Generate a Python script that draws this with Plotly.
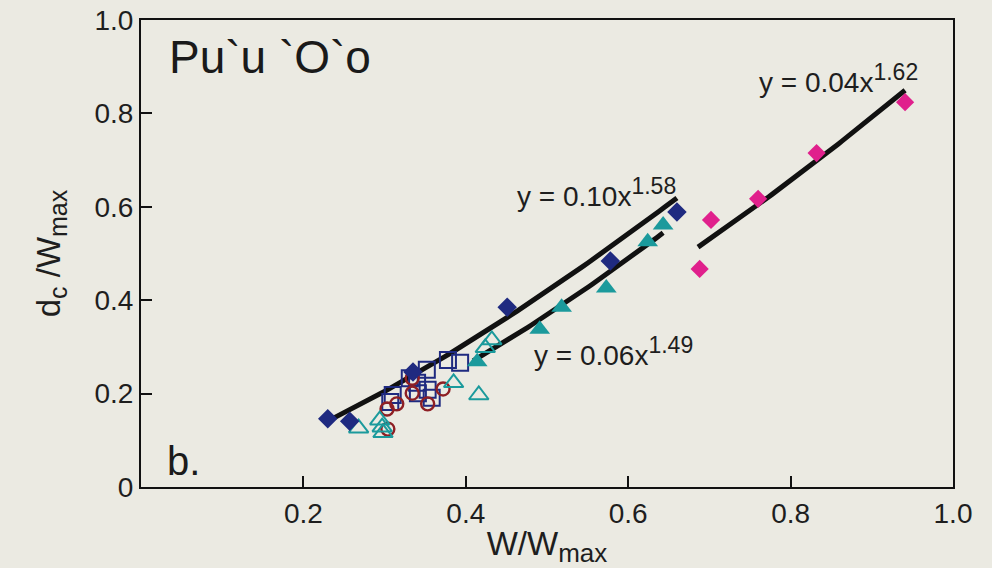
import numpy as np
import plotly.graph_objects as go

# ---- data ----
navy_diamond_x = [0.230, 0.257, 0.335, 0.451, 0.578, 0.660]
navy_diamond_y = [0.146, 0.141, 0.246, 0.385, 0.484, 0.589]

pink_diamond_x = [0.688, 0.702, 0.760, 0.832, 0.941]
pink_diamond_y = [0.467, 0.572, 0.617, 0.715, 0.824]

teal_filled_x = [0.414, 0.491, 0.518, 0.573, 0.624, 0.643]
teal_filled_y = [0.268, 0.338, 0.385, 0.426, 0.525, 0.561]

teal_open_x = [0.268, 0.294, 0.297, 0.298, 0.385, 0.416, 0.424, 0.432]
teal_open_y = [0.126, 0.143, 0.128, 0.116, 0.223, 0.197, 0.298, 0.315]

red_circle_x = [0.334, 0.334, 0.372, 0.353, 0.315, 0.303, 0.304]
red_circle_y = [0.233, 0.201, 0.210, 0.178, 0.178, 0.167, 0.124]

navy_square_x = [0.378, 0.393, 0.352, 0.340, 0.353, 0.358, 0.310, 0.307, 0.341, 0.331]
navy_square_y = [0.272, 0.266, 0.251, 0.223, 0.208, 0.191, 0.197, 0.182, 0.201, 0.233]

# power-law trend lines, as drawn in these normalised axes: (coef, exponent, x start, x end)
fit_upper = (1.109, 1.403, 0.230, 0.660)
fit_lower = (1.079, 1.55, 0.409, 0.643)
fit_pink = (0.936, 1.592, 0.686, 0.941)

fit_base = ["y = 0.10x", "y = 0.06x", "y = 0.04x"]
fit_power = ["1.58", "1.49", "1.62"]

x_tickvals = [0.2, 0.4, 0.6, 0.8, 1.0]
x_ticktext = ["0.2", "0.4", "0.6", "0.8", "1.0"]
y_tickvals = [0, 0.2, 0.4, 0.6, 0.8, 1.0]
y_ticktext = ["0", "0.2", "0.4", "0.6", "0.8", "1.0"]

NAVY = "#1f2a80"
PINK = "#e0208c"
TEAL = "#1b9a9c"
DARKRED = "#8e1f24"
INK = "#1e1e1e"
FONT = "Liberation Sans, Arial, sans-serif"

fig = go.Figure()

def fit_curve(params):
    c, p, x0, x1 = params
    xs = np.linspace(x0, x1, 60)
    return xs, c * xs ** p

for params in (fit_upper, fit_lower, fit_pink):
    fx, fy = fit_curve(params)
    fig.add_trace(go.Scatter(x=fx, y=fy, mode="lines",
                             line=dict(color="#111111", width=5), showlegend=False))

fig.add_trace(go.Scatter(x=navy_square_x, y=navy_square_y, mode="markers",
                         marker=dict(symbol="square-open", size=16, color=NAVY,
                                     line=dict(width=2, color=NAVY)), showlegend=False))
fig.add_trace(go.Scatter(x=red_circle_x, y=red_circle_y, mode="markers",
                         marker=dict(symbol="circle-open", size=13, color=DARKRED,
                                     line=dict(width=2.4, color=DARKRED)), showlegend=False))
fig.add_trace(go.Scatter(x=teal_open_x, y=teal_open_y, mode="markers",
                         marker=dict(symbol="triangle-up-open", size=17, color=TEAL,
                                     line=dict(width=2, color=TEAL)), showlegend=False))
fig.add_trace(go.Scatter(x=teal_filled_x, y=teal_filled_y, mode="markers",
                         marker=dict(symbol="triangle-up", size=18, color=TEAL,
                                     line=dict(width=0)), showlegend=False))
fig.add_trace(go.Scatter(x=navy_diamond_x, y=navy_diamond_y, mode="markers",
                         marker=dict(symbol="diamond", size=15, color=NAVY,
                                     line=dict(width=0)), showlegend=False))
fig.add_trace(go.Scatter(x=pink_diamond_x, y=pink_diamond_y, mode="markers",
                         marker=dict(symbol="diamond", size=14, color=PINK,
                                     line=dict(width=0)), showlegend=False))

def fit_text(i):
    return fit_base[i] + "<sup><span style='font-size:23px'>" + fit_power[i] + "</span></sup>"

fit_pos = [(0.460, 0.63), (0.482, 0.29), (0.758, 0.875)]
for i, (ax, ay) in enumerate(fit_pos):
    fig.add_annotation(x=ax, y=ay, xref="x", yref="y", text=fit_text(i),
                       showarrow=False, xanchor="left", yanchor="middle",
                       font=dict(size=28, color=INK, family=FONT))

# panel texts
fig.add_annotation(x=0.032, y=0.92, xref="x", yref="y", text="Pu`u `O`o",
                   showarrow=False, xanchor="left", yanchor="middle",
                   font=dict(size=46, color="#1a1a1a", family=FONT))
fig.add_annotation(x=0.029, y=0.055, xref="x", yref="y", text="b.",
                   showarrow=False, xanchor="left", yanchor="middle",
                   font=dict(size=40, color="#1a1a1a", family=FONT))

fig.update_xaxes(range=[0, 1.0], tickvals=x_tickvals, ticktext=x_ticktext, automargin=False,
                 showgrid=False, zeroline=False, showline=True, linecolor="#111111",
                 linewidth=2, mirror=True, ticks="inside", ticklen=11, tickwidth=2,
                 tickcolor="#111111", tickfont=dict(size=28, color=INK, family=FONT),
                 title=dict(text="W/W<sub><span style='font-size:26px'>max</span></sub>",
                            font=dict(size=33, color=INK, family=FONT), standoff=4))
fig.update_yaxes(range=[0, 1.0], tickvals=y_tickvals, ticktext=y_ticktext, automargin=False,
                 showgrid=False, zeroline=False, showline=True, linecolor="#111111",
                 linewidth=2, mirror=True, ticks="inside", ticklen=11, tickwidth=2,
                 tickcolor="#111111", tickfont=dict(size=28, color=INK, family=FONT),
                 title=dict(text="d<sub><span style='font-size:25px'>c</span></sub> /W<sub><span style='font-size:25px'>max</span></sub>",
                            font=dict(size=33, color=INK, family=FONT), standoff=24))

fig.update_layout(width=992, height=568,
                  margin=dict(l=141, r=39, t=20, b=81, autoexpand=False),
                  paper_bgcolor="#ebeae2", plot_bgcolor="#ebeae2",
                  showlegend=False)

fig.write_html("out.html")
